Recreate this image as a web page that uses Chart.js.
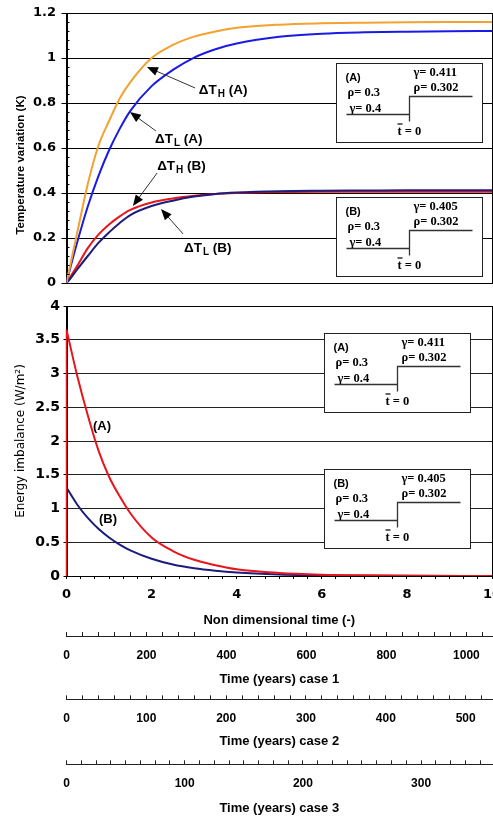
<!DOCTYPE html>
<html>
<head>
<meta charset="utf-8">
<title>Temperature variation and energy imbalance</title>
<script src="https://cdn.jsdelivr.net/npm/chart.js@4.4.1/dist/chart.umd.min.js"></script>
<style>
  html, body { margin: 0; padding: 0; background: #fff; }
  .box { position: absolute; left: 0; width: 493px; }
  #box-temp { top: 0; height: 295px; }
  #box-energy { top: 290px; height: 528px; }
</style>
</head>
<body>
<div class="box" id="box-temp"><canvas id="chart-temp"></canvas></div>
<div class="box" id="box-energy"><canvas id="chart-energy"></canvas></div>
<script>
// non dimensional time (-) for the temperature curves
const timeND = [0, 0.1, 0.25, 0.5, 0.75, 1, 1.25, 1.5, 2, 2.5, 3, 3.5, 4, 5, 6, 7, 8, 9, 10];
const dTH_A = [0, 0.09, 0.222, 0.44, 0.61, 0.72, 0.82, 0.893, 1.0, 1.058, 1.095, 1.118, 1.134, 1.148, 1.154, 1.157, 1.159, 1.16, 1.16];
const dTL_A = [0, 0.075, 0.18, 0.34, 0.475, 0.59, 0.685, 0.765, 0.875, 0.947, 1.002, 1.039, 1.064, 1.094, 1.108, 1.114, 1.117, 1.119, 1.12];
const dTH_B = [0, 0.03, 0.075, 0.155, 0.215, 0.26, 0.296, 0.325, 0.358, 0.376, 0.388, 0.396, 0.4, 0.404, 0.406, 0.406, 0.406, 0.406, 0.406];
const dTL_B = [0, 0.022, 0.06, 0.12, 0.178, 0.225, 0.267, 0.302, 0.342, 0.366, 0.384, 0.396, 0.402, 0.408, 0.41, 0.411, 0.412, 0.412, 0.412];

// energy imbalance (W/m2)
const timeImb = [0, 0.25, 0.5, 0.75, 1, 1.25, 1.5, 2, 2.5, 3, 3.5, 4, 5, 6, 7, 8, 10];
const imbA = [3.65, 2.97, 2.38, 1.86, 1.47, 1.18, 0.93, 0.57, 0.37, 0.24, 0.16, 0.1, 0.045, 0.02, 0.01, 0.005, 0];
const imbB = [1.31, 1.06, 0.86, 0.7, 0.57, 0.465, 0.38, 0.255, 0.17, 0.115, 0.078, 0.052, 0.024, 0.011, 0.005, 0.002, 0];

// extra time axes (years)
const caseTitles = ["Time (years) case 1", "Time (years) case 2", "Time (years) case 3"];
const caseMaxYears = [1064, 533, 360];
const caseMajorStep = [200, 100, 100];
const caseMinorStep = [40, 20, 12.5];

// inset boxes
const insets = [
  { tag: "(A)", before: ["ρ= 0.3", "γ= 0.4"], after: ["γ= 0.411", "ρ= 0.302"] },
  { tag: "(B)", before: ["ρ= 0.3", "γ= 0.4"], after: ["γ= 0.405", "ρ= 0.302"] },
];

const BLACK = "#000";
const SANS = "'Liberation Sans', Arial, sans-serif";

function pairs(xs, ys) {
  return xs.map((x, i) => ({ x: x, y: ys[i] }));
}

function isMultiple(v, step) {
  return Math.abs(v / step - Math.round(v / step)) < 1e-6;
}

function makeTicks(max, step) {
  let ticks = [];
  for (let k = 0; k * step <= max + 1e-9; k++) {
    ticks.push({ value: k * step });
  }
  return ticks;
}

function fixWidth(w) {
  return (scale) => {
    scale.width = w;
    scale.paddingTop = 0;
    scale.paddingBottom = 0;
  };
}

function fixHeight(h) {
  return (scale) => {
    scale.height = h;
    scale.paddingLeft = 0;
    scale.paddingRight = 0;
  };
}

function drawArrow(ctx, x1, y1, x2, y2) {
  const a = Math.atan2(y2 - y1, x2 - x1);
  const c = Math.cos(a), s = Math.sin(a);
  ctx.beginPath();
  ctx.moveTo(x1, y1);
  ctx.lineTo(x2 - 8 * c, y2 - 8 * s);
  ctx.stroke();
  ctx.beginPath();
  ctx.moveTo(x2, y2);
  ctx.lineTo(x2 - 11 * c + 4.5 * s, y2 - 11 * s - 4.5 * c);
  ctx.lineTo(x2 - 11 * c - 4.5 * s, y2 - 11 * s + 4.5 * c);
  ctx.closePath();
  ctx.fill();
}

function drawDelta(ctx, x, y, sub, tail) {
  ctx.textAlign = "left";
  ctx.textBaseline = "middle";
  ctx.font = "bold 13.5px " + SANS;
  ctx.fillText("ΔT", x, y);
  let w = ctx.measureText("ΔT").width + 1;
  ctx.font = "bold 10px " + SANS;
  ctx.fillText(sub, x + w, y + 4);
  w += ctx.measureText(sub).width;
  ctx.font = "bold 13.5px " + SANS;
  ctx.fillText(tail, x + w, y);
}

function drawInset(ctx, bx, by, inset) {
  bx = Math.round(bx) + 0.5;
  by = Math.round(by) + 0.5;
  ctx.save();
  ctx.fillStyle = "#fff";
  ctx.fillRect(bx, by, 146, 79);
  ctx.strokeStyle = "#222";
  ctx.lineWidth = 1;
  ctx.strokeRect(bx, by, 146, 79);

  ctx.fillStyle = BLACK;
  ctx.textAlign = "left";
  ctx.textBaseline = "middle";
  ctx.font = "bold 11px " + SANS;
  ctx.fillText(inset.tag, bx + 9, by + 14);
  ctx.font = "bold 12.5px 'Liberation Serif', serif";
  ctx.fillText(inset.before[0], bx + 11, by + 29);
  ctx.fillText(inset.before[1], bx + 13, by + 45);
  ctx.fillText(inset.after[0], bx + 77, by + 9.5);
  ctx.fillText(inset.after[1], bx + 77, by + 24.5);
  ctx.fillText("t = 0", bx + 61, by + 68);

  // step in gamma at t = 0
  ctx.strokeStyle = "#333";
  ctx.lineWidth = 1.3;
  ctx.beginPath();
  ctx.moveTo(bx + 10, by + 51);
  ctx.lineTo(bx + 73, by + 51);
  ctx.moveTo(bx + 73, by + 58);
  ctx.lineTo(bx + 73, by + 33);
  ctx.lineTo(bx + 136, by + 33);
  ctx.moveTo(bx + 61, by + 60.5);
  ctx.lineTo(bx + 66, by + 60.5);
  ctx.stroke();
  ctx.restore();
}

// frame around the plot area, drawn under the curves
const framePlugin = {
  id: "frame",
  beforeDatasetsDraw(chart) {
    const { ctx, chartArea: a } = chart;
    ctx.save();
    ctx.strokeStyle = BLACK;
    ctx.lineWidth = 1;
    ctx.strokeRect(Math.round(a.left) + 0.5, Math.round(a.top) + 0.5,
      Math.round(a.right - a.left) - 1, Math.round(a.bottom - a.top));
    ctx.restore();
  },
};

// labels with arrows, top chart (positions in data units)
const tempNotes = [
  { sub: "H", tail: " (A)", x: 3.11, y: 0.858, fromX: 3.02, fromY: 0.867, toX: 1.89, toY: 0.96 },
  { sub: "L", tail: " (A)", x: 2.08, y: 0.64, fromX: 2.1, fromY: 0.676, toX: 1.49, toY: 0.76 },
  { sub: "H", tail: " (B)", x: 2.13, y: 0.52, fromX: 2.13, fromY: 0.489, toX: 1.56, toY: 0.342 },
  { sub: "L", tail: " (B)", x: 2.76, y: 0.156, fromX: 2.74, fromY: 0.218, toX: 2.22, toY: 0.329 },
];

const tempDecor = {
  id: "tempDecor",
  afterDatasetsDraw(chart) {
    const { ctx, scales: { x, y }, chartArea } = chart;
    ctx.save();

    // minor ticks inside the y axis
    ctx.strokeStyle = BLACK;
    ctx.lineWidth = 1;
    ctx.beginPath();
    for (let k = 1; k < 30; k++) {
      if (k % 5 === 0) continue;
      const py = Math.round(y.getPixelForValue(k * 0.04)) + 0.5;
      ctx.moveTo(chartArea.left, py);
      ctx.lineTo(chartArea.left + 3, py);
    }
    ctx.stroke();

    drawInset(ctx, x.getPixelForValue(6.33), y.getPixelForValue(0.979), insets[0]);
    drawInset(ctx, x.getPixelForValue(6.33), y.getPixelForValue(0.382), insets[1]);

    ctx.fillStyle = BLACK;
    ctx.strokeStyle = "#333";
    ctx.lineWidth = 1;
    tempNotes.forEach((n) => {
      drawArrow(ctx, x.getPixelForValue(n.fromX), y.getPixelForValue(n.fromY),
        x.getPixelForValue(n.toX), y.getPixelForValue(n.toY));
      drawDelta(ctx, x.getPixelForValue(n.x), y.getPixelForValue(n.y), n.sub, n.tail);
    });

    // y axis title, sitting a bit below the middle
    ctx.translate(21, 165);
    ctx.rotate(-Math.PI / 2);
    ctx.textAlign = "center";
    ctx.textBaseline = "middle";
    ctx.font = "bold 11.5px " + SANS;
    ctx.fillText("Temperature variation (K)", 0, 0);
    ctx.restore();
  },
};

const energyNotes = [
  { text: "(A)", x: 0.834, y: 2.21 },
  { text: "(B)", x: 0.975, y: 0.836 },
];

const energyDecor = {
  id: "energyDecor",
  afterDatasetsDraw(chart) {
    const { ctx, scales: { x, y } } = chart;
    ctx.save();
    drawInset(ctx, x.getPixelForValue(6.04), y.getPixelForValue(3.6), insets[0]);
    drawInset(ctx, x.getPixelForValue(6.04), y.getPixelForValue(1.585), insets[1]);
    ctx.fillStyle = BLACK;
    ctx.textAlign = "center";
    ctx.textBaseline = "middle";
    ctx.font = "bold 13px " + SANS;
    energyNotes.forEach((n) => {
      ctx.fillText(n.text, x.getPixelForValue(n.x), y.getPixelForValue(n.y));
    });
    ctx.restore();
  },
};

const lineStyle = {
  borderWidth: 2,
  pointRadius: 0,
  fill: false,
  cubicInterpolationMode: "monotone",
};

const tempConfig = {
  type: "line",
  data: {
    datasets: [
      { ...lineStyle, label: "ΔTH (A)", data: pairs(timeND, dTH_A), borderColor: "#f2a22e" },
      { ...lineStyle, label: "ΔTL (A)", data: pairs(timeND, dTL_A), borderColor: "#1a1ae6" },
      { ...lineStyle, label: "ΔTL (B)", data: pairs(timeND, dTL_B), borderColor: "#1c1c7c" },
      { ...lineStyle, label: "ΔTH (B)", data: pairs(timeND, dTH_B), borderColor: "#e8161c" },
    ],
  },
  options: {
    responsive: true,
    maintainAspectRatio: false,
    animation: false,
    layout: { autoPadding: false, padding: { top: 13, bottom: 12, left: 0, right: 1 } },
    plugins: { legend: { display: false }, tooltip: { enabled: false } },
    scales: {
      x: { type: "linear", min: 0, max: 10, display: false },
      y: {
        min: 0,
        max: 1.2,
        afterFit: fixWidth(66.5),
        ticks: {
          stepSize: 0.2,
          padding: 5.5,
          color: BLACK,
          font: { family: "DejaVu Sans", weight: "bold", size: 13 },
          callback: (v) => String(parseFloat(v.toFixed(2))),
        },
        grid: { color: BLACK, tickColor: BLACK, tickLength: 5 },
        border: { color: BLACK },
      },
    },
  },
  plugins: [framePlugin, tempDecor],
};

function caseAxis(i, height, padBottom) {
  return {
    type: "linear",
    position: "bottom",
    min: 0,
    max: caseMaxYears[i],
    afterFit: fixHeight(height),
    afterBuildTicks: (scale) => {
      scale.ticks = makeTicks(caseMaxYears[i], caseMinorStep[i]);
    },
    ticks: {
      autoSkip: false,
      maxRotation: 0,
      padding: 16.5,
      color: BLACK,
      font: { family: SANS, weight: "bold", size: 12 },
      callback: (v) => (isMultiple(v, caseMajorStep[i]) ? String(Math.round(v)) : ""),
    },
    grid: { drawOnChartArea: false, tickLength: -4, tickColor: "#222" },
    border: { color: "#222" },
    title: {
      display: true,
      text: caseTitles[i],
      color: BLACK,
      font: { family: SANS, weight: "bold", size: 13 },
      padding: { top: 0, bottom: padBottom },
    },
  };
}

const energyConfig = {
  type: "line",
  data: {
    datasets: [
      { ...lineStyle, label: "(A)", data: pairs(timeImb, imbA), borderColor: "#e8161c" },
      { ...lineStyle, label: "(A) start", data: [{ x: 0, y: 0 }, { x: 0, y: imbA[0] }], borderColor: "#e8161c", borderWidth: 1.5, clip: false },
      { ...lineStyle, label: "(B)", data: pairs(timeImb, imbB), borderColor: "#1c1c7c" },
    ],
  },
  options: {
    responsive: true,
    maintainAspectRatio: false,
    animation: false,
    layout: { autoPadding: false, padding: { top: 16, bottom: 0, left: 0, right: 1 } },
    plugins: { legend: { display: false }, tooltip: { enabled: false } },
    scales: {
      x: {
        type: "linear",
        position: "bottom",
        min: 0,
        max: 10,
        afterFit: fixHeight(60),
        afterBuildTicks: (scale) => {
          scale.ticks = makeTicks(10, 1 / 3);
        },
        ticks: {
          autoSkip: false,
          maxRotation: 0,
          padding: 8,
          color: BLACK,
          font: { family: "DejaVu Sans", weight: "bold", size: 13 },
          callback: (v) => (isMultiple(v, 2) ? String(Math.round(v)) : ""),
        },
        grid: { drawOnChartArea: false, tickLength: 3, tickColor: BLACK },
        border: { color: BLACK },
        title: {
          display: true,
          text: "Non dimensional time (-)",
          color: BLACK,
          font: { family: SANS, weight: "bold", size: 13 },
          padding: { top: 0, bottom: 7.5 },
        },
      },
      xCase1: caseAxis(0, 63.3, 12.5),
      xCase2: caseAxis(1, 65, 14.8),
      xCase3: caseAxis(2, 53.7, 1.9),
      y: {
        min: 0,
        max: 4,
        afterFit: fixWidth(66.5),
        ticks: {
          stepSize: 0.5,
          padding: 3.5,
          color: BLACK,
          font: { family: "DejaVu Sans", weight: "bold", size: 14 },
          callback: (v) => String(parseFloat(v.toFixed(2))),
        },
        grid: { color: "#222", tickColor: BLACK, tickLength: 3 },
        border: { color: BLACK },
        title: {
          display: true,
          text: "Energy imbalance (W/m²)",
          color: BLACK,
          font: { family: "DejaVu Sans", size: 12 },
          padding: { top: 13.8, bottom: 0 },
        },
      },
    },
  },
  plugins: [framePlugin, energyDecor],
};

const tempChart = new Chart(document.getElementById("chart-temp"), tempConfig);
const energyChart = new Chart(document.getElementById("chart-energy"), energyConfig);
</script>
</body>
</html>
